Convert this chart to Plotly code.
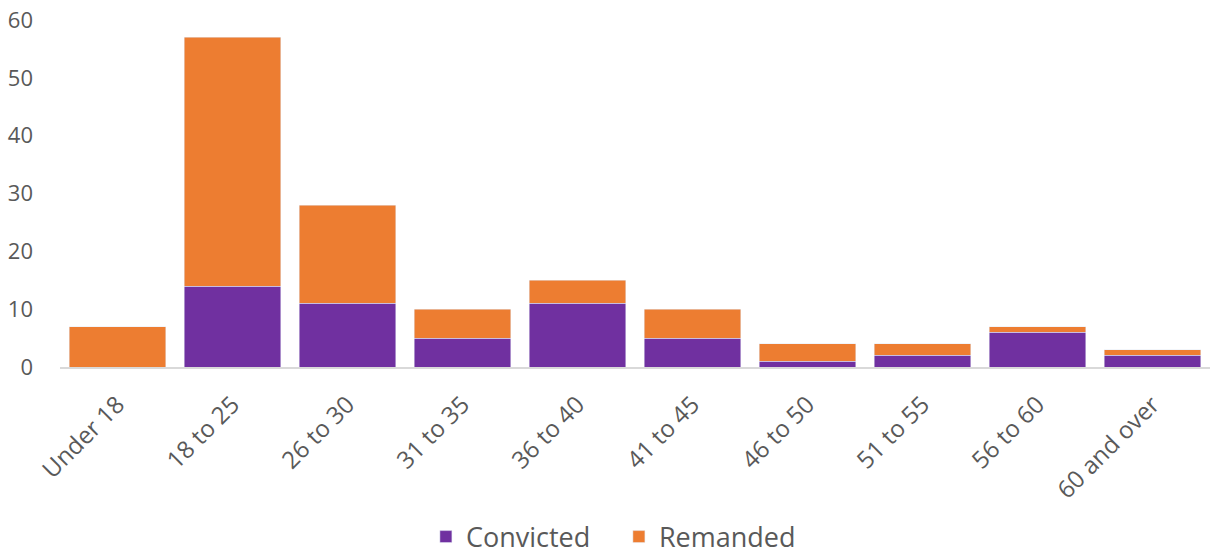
import plotly.graph_objects as go

categories = ["Under 18", "18 to 25", "26 to 30", "31 to 35", "36 to 40",
              "41 to 45", "46 to 50", "51 to 55", "56 to 60", "60 and over"]
convicted = [0, 14, 11, 5, 11, 5, 1, 2, 6, 2]
remanded = [7, 43, 17, 5, 4, 5, 3, 2, 1, 1]
y_ticks = [0, 10, 20, 30, 40, 50, 60]

fig = go.Figure()
fig.add_trace(go.Bar(x=categories, y=convicted, name="Convicted", marker_color="#7030A0"))
fig.add_trace(go.Bar(x=categories, y=remanded, name="Remanded", marker_color="#ED7D31"))

font_family = "Open Sans, Liberation Sans, sans-serif"
fig.update_layout(
    barmode="stack",
    bargap=0.165,
    width=1212, height=556,
    margin=dict(l=60, r=2, t=20, b=189, autoexpand=False),
    plot_bgcolor="white", paper_bgcolor="white",
    font=dict(family=font_family, color="#595959", size=22),
    showlegend=True,
    legend=dict(orientation="h", x=0.486, xanchor="center", y=-0.49, yanchor="middle",
                font=dict(size=27, color="#595959"), traceorder="normal",
                entrywidth=148, entrywidthmode="pixels"),
    xaxis=dict(tickangle=-45, showline=True, linecolor="#D9D9D9", linewidth=2,
               ticks="", automargin=False, ticklabelstandoff=12,
               tickfont=dict(size=24, color="#595959")),
    yaxis=dict(range=[0, 60], tickvals=y_ticks, showgrid=False, zeroline=False,
               showline=False, ticks="", automargin=False, ticklabelstandoff=26,
               ticklabeloverflow="allow",
               tickfont=dict(size=22, color="#595959")),
)

fig.write_html("out.html", config={"displayModeBar": False},
               post_script="document.body.style.margin='0';")
